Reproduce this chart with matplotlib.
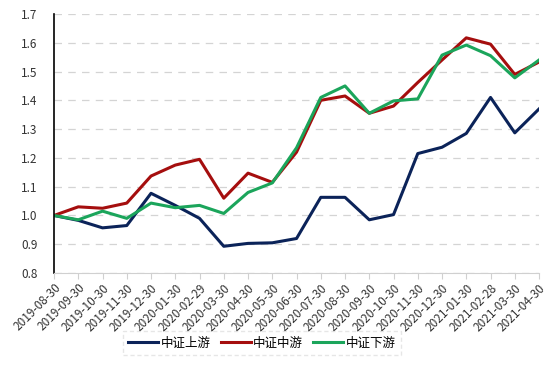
import matplotlib
matplotlib.use('Agg')
import matplotlib.pyplot as plt

plt.rcParams['font.family'] = ['Noto Sans CJK SC', 'DejaVu Sans']

# 数据
dates = ['2019-08-30', '2019-09-30', '2019-10-30', '2019-11-30', '2019-12-30',
         '2020-01-30', '2020-02-29', '2020-03-30', '2020-04-30', '2020-05-30',
         '2020-06-30', '2020-07-30', '2020-08-30', '2020-09-30', '2020-10-30',
         '2020-11-30', '2020-12-30', '2021-01-30', '2021-02-28', '2021-03-30',
         '2021-04-30']
upstream = [1.0, 0.983, 0.957, 0.965, 1.077, 1.035, 0.99, 0.893, 0.903, 0.905,
            0.92, 1.063, 1.063, 0.985, 1.003, 1.215, 1.237, 1.285, 1.41, 1.287, 1.37]
midstream = [1.0, 1.03, 1.025, 1.043, 1.137, 1.175, 1.195, 1.06, 1.147, 1.115,
             1.22, 1.40, 1.415, 1.355, 1.38, 1.462, 1.54, 1.617, 1.595, 1.49, 1.533]
downstream = [1.0, 0.985, 1.015, 0.99, 1.043, 1.027, 1.035, 1.007, 1.08, 1.113,
              1.235, 1.41, 1.45, 1.355, 1.398, 1.405, 1.557, 1.592, 1.555, 1.478, 1.54]

fig = plt.figure(figsize=(5.54, 3.67), dpi=100)
ax = fig.add_axes([0.0975, 0.256, 0.8755, 0.706])

x = range(len(dates))
ax.plot(x, upstream, color='#0B2359', lw=2.2, label='中证上游')
ax.plot(x, midstream, color='#A50E0E', lw=2.2, label='中证中游')
ax.plot(x, downstream, color='#1BA55B', lw=2.2, label='中证下游')

ax.set_xlim(0, len(dates) - 1)
ax.set_ylim(0.8, 1.7)
ax.set_yticks([0.8, 0.9, 1.0, 1.1, 1.2, 1.3, 1.4, 1.5, 1.6, 1.7])
ax.set_yticklabels(['0.8', '0.9', '1.0', '1.1', '1.2', '1.3', '1.4', '1.5', '1.6', '1.7'])
ax.set_xticks(list(x))
ax.set_xticklabels(dates, rotation=45, ha='right', rotation_mode='anchor', fontsize=8.5, color='#333333')
ax.tick_params(axis='y', length=0, labelsize=8.5, labelcolor='#333333', pad=12)
ax.tick_params(axis='x', length=4, color='#D0D0D0', pad=2)

ax.grid(axis='y', linestyle=(0, (6, 5)), color='#D4D4D4', lw=0.9)
ax.set_axisbelow(True)
for s in ['top', 'right']:
    ax.spines[s].set_visible(False)
ax.spines['bottom'].set_color('#D0D0D0')
ax.spines['left'].set_color('black')
ax.spines['left'].set_linewidth(1.2)

leg = fig.legend(loc='lower center', bbox_to_anchor=(0.473, 0.015), ncol=3, fontsize=9,
                 handlelength=2.4, columnspacing=0.8, handletextpad=0.2, fancybox=False,
                 borderpad=0.45)
leg.get_frame().set_edgecolor('#E0E0E0')
leg.get_frame().set_linestyle((0, (3, 2)))

fig.savefig('out.png', dpi=100)
